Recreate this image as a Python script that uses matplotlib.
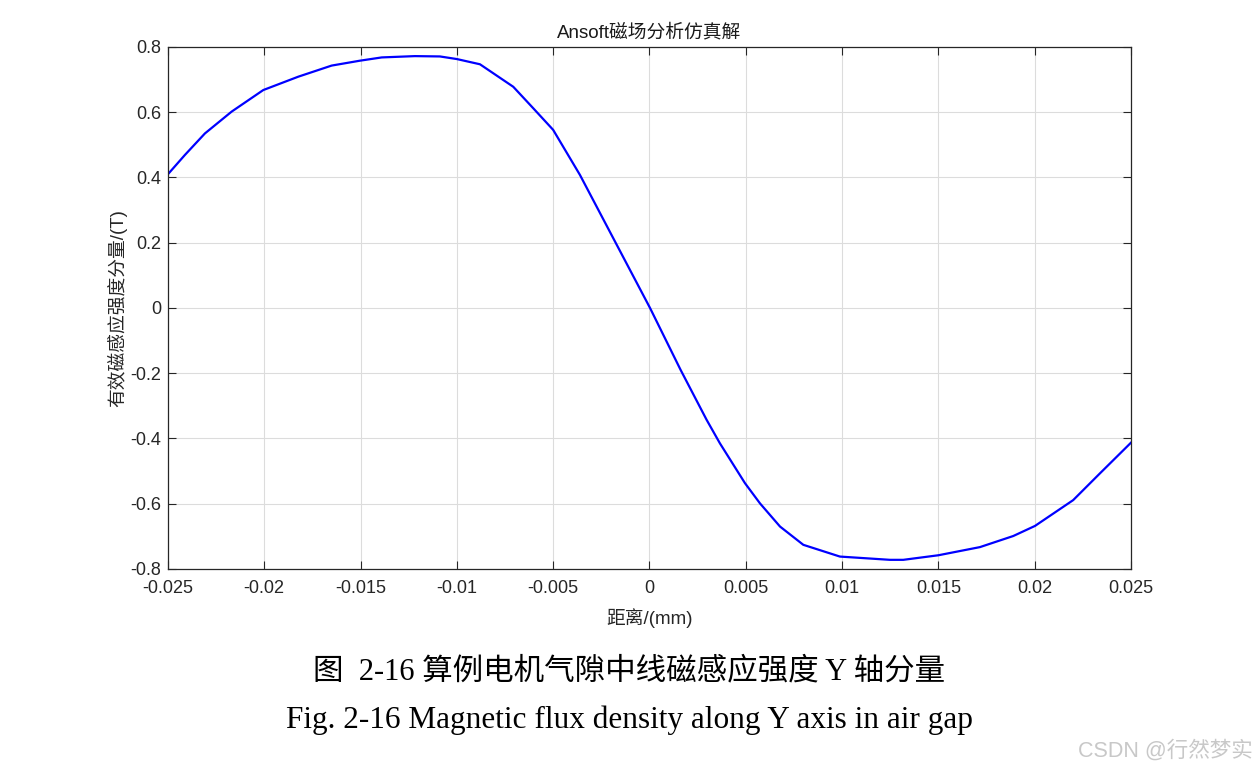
import matplotlib.pyplot as plt
import numpy as np

plt.rcParams['font.family'] = ['Liberation Sans', 'Noto Sans CJK SC', 'DejaVu Sans']

# distance and flux density Y component (T)
dist = [-0.0250, -0.02412, -0.02308, -0.02169, -0.02005, -0.01823, -0.0165,
        -0.01503, -0.0139, -0.01218, -0.01088, -0.0100, -0.0088, -0.00707,
        -0.00603, -0.0050, -0.00361, -0.00188, 0.00003, 0.00162, 0.00297,
        0.00366, 0.00496, 0.00574, 0.00678, 0.00799, 0.00989, 0.01249,
        0.01318, 0.0150, 0.01716, 0.01889, 0.02002, 0.0220, 0.02339, 0.0250]
flux = [0.410, 0.469, 0.535, 0.602, 0.668, 0.709, 0.743,
        0.758, 0.768, 0.772, 0.771, 0.763, 0.747, 0.678,
        0.612, 0.546, 0.408, 0.214, 0.000, -0.190, -0.343,
        -0.415, -0.537, -0.599, -0.670, -0.726, -0.762, -0.772,
        -0.772, -0.758, -0.733, -0.699, -0.668, -0.589, -0.507, -0.413]

xticks = [-0.025, -0.02, -0.015, -0.01, -0.005, 0, 0.005, 0.01, 0.015, 0.02, 0.025]
xtick_labels = ['-0.025', '-0.02', '-0.015', '-0.01', '-0.005', '0',
                '0.005', '0.01', '0.015', '0.02', '0.025']
yticks = [-0.8, -0.6, -0.4, -0.2, 0, 0.2, 0.4, 0.6, 0.8]
ytick_labels = ['-0.8', '-0.6', '-0.4', '-0.2', '0', '0.2', '0.4', '0.6', '0.8']

fig = plt.figure(figsize=(12.58, 7.74), dpi=100)
ax = fig.add_axes([0.1335, 0.2649, 0.7655, 0.6744])

ax.plot(dist, flux, color='#0000ff', linewidth=1.6)

ax.set_xlim(-0.025, 0.025)
ax.set_ylim(-0.8, 0.8)
ax.set_xticks(xticks)
ax.set_xticklabels(xtick_labels)
ax.set_yticks(yticks)
ax.set_yticklabels(ytick_labels)
ax.tick_params(direction='in', top=True, right=True, labelsize=13, length=6,
               color='#262626', labelcolor='#262626')
ax.tick_params(axis='x', pad=8)
ax.tick_params(axis='y', pad=5)
ax.grid(True, color='#dcdcdc', linewidth=0.8)
for s in ax.spines.values():
    s.set_color('#262626')
    s.set_linewidth(0.9)

ax.set_title('Ansoft磁场分析仿真解', fontsize=13.5, color='#1a1a1a', pad=7)
ax.set_xlabel('距离/(mm)', fontsize=13.5, color='#262626', labelpad=8)
ax.set_ylabel('有效磁感应强度分量/(T)', fontsize=13.5, color='#262626', labelpad=2)

cap_font = ['Liberation Serif', 'Noto Sans CJK SC']
fig.text(0.5, 1 - 672 / 774, '图  2-16 算例电机气隙中线磁感应强度 Y 轴分量', ha='center',
         va='center', fontsize=22, family=cap_font)
fig.text(0.5, 1 - 720 / 774, 'Fig. 2-16 Magnetic flux density along Y axis in air gap',
         ha='center', va='center', fontsize=22.5, family=cap_font)
fig.text(0.996, 1 - 751 / 774, 'CSDN @行然梦实', ha='right', va='center',
         fontsize=15.5, color='#c8c8c8', family=['Liberation Sans', 'Noto Sans CJK SC'])

fig.savefig('out.png', dpi=100)
